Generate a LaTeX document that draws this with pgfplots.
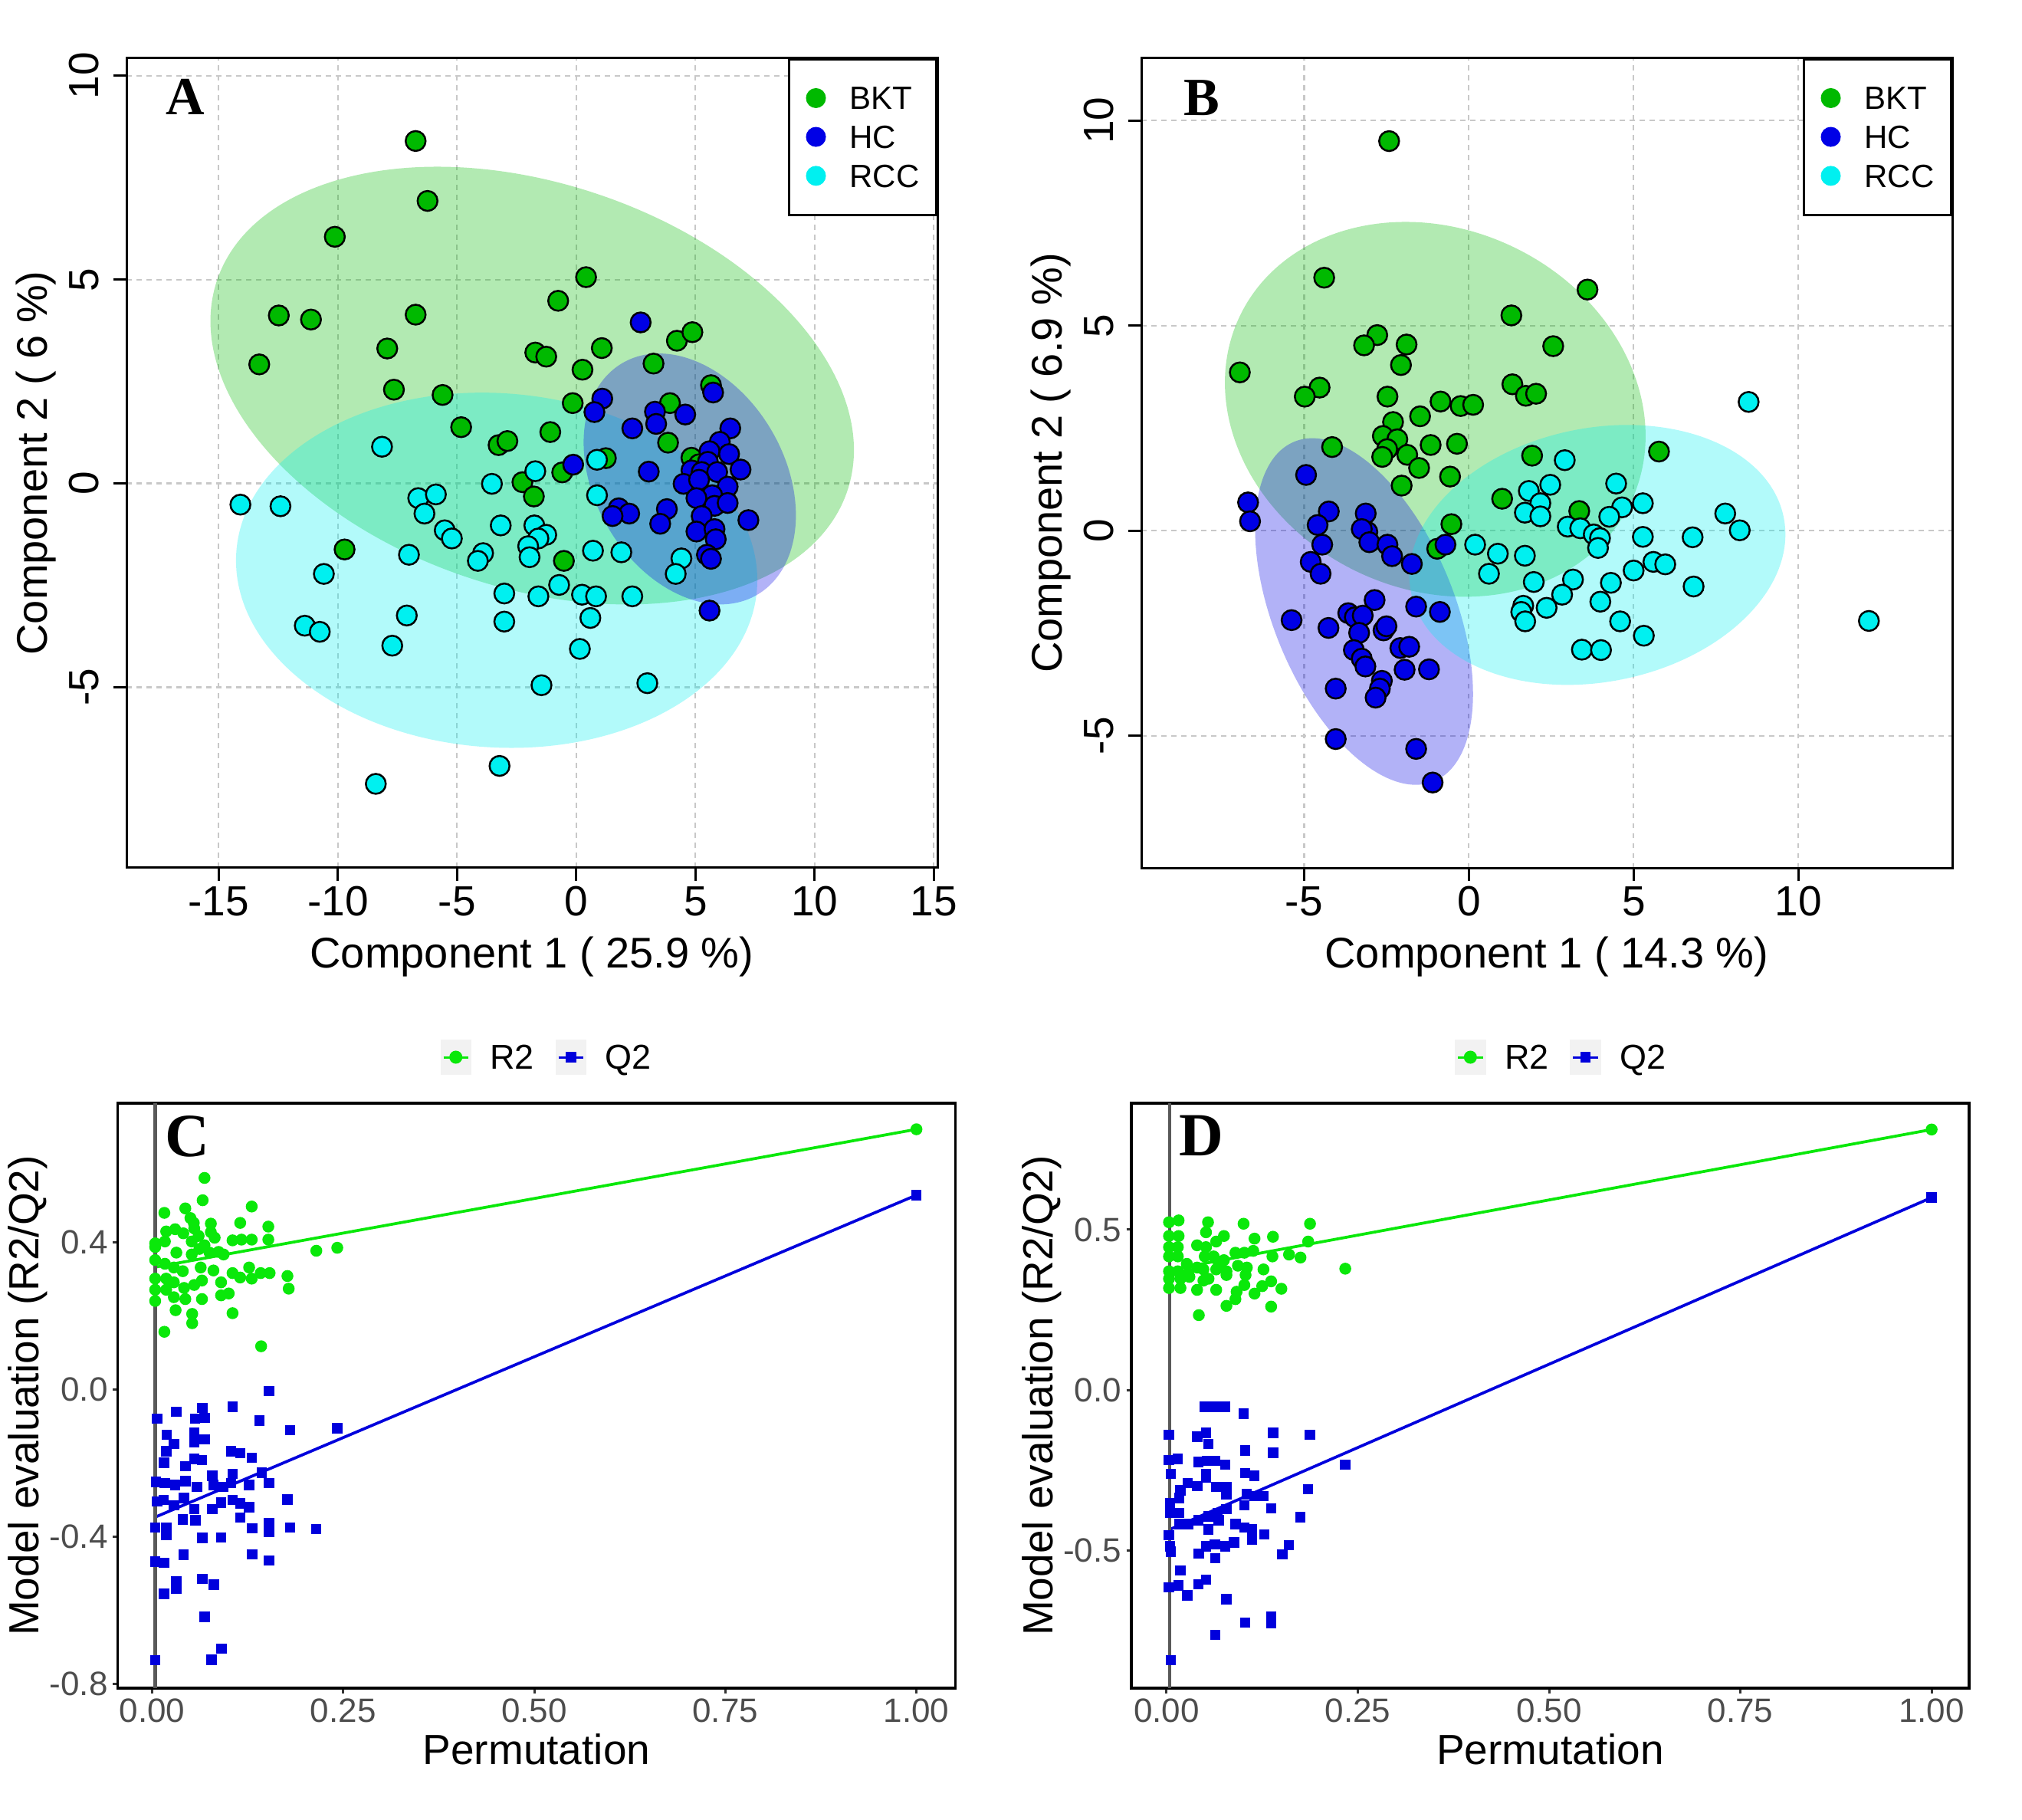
\documentclass[border=0pt]{standalone}
\usepackage{fontspec}
\setmainfont{Liberation Sans}
\newfontfamily\panelfont{Liberation Serif}
\usepackage{pgfplots}
\pgfplotsset{compat=1.18}
\definecolor{bkt}{RGB}{0,185,0}
\definecolor{hc}{RGB}{0,0,230}
\definecolor{rcc}{RGB}{0,240,240}
\definecolor{rtwo}{RGB}{10,232,10}
\definecolor{qtwo}{RGB}{0,0,220}
\definecolor{gridc}{RGB}{200,200,200}
\definecolor{keybg}{RGB}{242,242,242}
\definecolor{tickc}{RGB}{77,77,77}
\pgfplotsset{
  pca/.style={
    scale only axis, width=211.6pt, height=211.2pt,
    axis line style={line width=0.6pt},
    tick align=outside, xtick pos=left, ytick pos=left,
    major tick length=3.4pt, tick style={line width=0.6pt, black},
    grid=major, major grid style={gridc, line width=0.45pt, dash pattern=on 1.3pt off 1.3pt},
    xticklabel style={font=\fontsize{11}{13}\selectfont, inner sep=1.3pt},
    yticklabel style={font=\fontsize{11}{13}\selectfont, rotate=90, anchor=south, inner sep=0pt},
    yticklabel shift=3.5pt,
    label style={font=\fontsize{11.2}{13}\selectfont},
    xlabel style={at={(axis description cs:0.5,-0.124)}, anchor=base},
    ylabel style={at={(axis description cs:-0.0978,0.5)}, anchor=base},
    legend style={at={(1,1)}, anchor=north east, draw=black, line width=0.6pt,
      font=\fontsize{8.4}{10}\selectfont, inner xsep=4.4pt, inner ysep=7.2pt,
      row sep=4.3pt, /tikz/every odd column/.append style={column sep=6.2pt},
      nodes={inner sep=0pt, text depth=0pt}},
    legend cell align=left,
  },
  pca marks/.style={only marks, mark=*, mark size=2.6pt, draw=black, line width=0.5pt, forget plot},
  perm/.style={
    scale only axis, width=218.6pt, height=152.6pt,
    axis line style={line width=0.7pt},
    tick align=outside, xtick pos=left, ytick pos=left,
    major tick length=1.3pt, tick style={line width=0.6pt, black!80},
    xmin=-0.045, xmax=1.051,
    xtick={0,0.25,0.5,0.75,1}, xticklabels={0.00,0.25,0.50,0.75,1.00},
    xticklabel style={font=\fontsize{8.8}{10}\selectfont, text=tickc, inner sep=1.2pt},
    yticklabel style={font=\fontsize{8.8}{10}\selectfont, text=tickc, inner sep=1.1pt},
    label style={font=\fontsize{11}{13}\selectfont},
    xlabel={Permutation},
    ylabel={Model evaluation (R2/Q2)},
    xlabel style={at={(axis description cs:0.5,-0.130)}, anchor=base},
    ylabel style={at={(axis description cs:-0.0938,0.5)}, anchor=base},
    legend columns=2,
    legend style={at={(0.511,1.0786)}, anchor=center, draw=none, fill=none,
      font=\fontsize{9}{11}\selectfont,
      nodes={inner sep=0pt, text depth=0pt},
      /tikz/every odd column/.append style={column sep=4.9pt},
      /tikz/every even column/.append style={column sep=5.5pt}},
  },
  rtwo key/.style={legend image code/.code={
      \fill[keybg] (0pt,-4.35pt) rectangle (7.7pt,4.35pt);
      \draw[rtwo, line width=0.6pt] (0.6pt,0pt) -- (7.1pt,0pt);
      \fill[rtwo] (3.85pt,0pt) circle (1.5pt);}},
  qtwo key/.style={legend image code/.code={
      \fill[keybg] (0pt,-4.35pt) rectangle (7.7pt,4.35pt);
      \draw[qtwo, line width=0.6pt] (0.6pt,0pt) -- (7.1pt,0pt);
      \fill[qtwo] (2.7pt,-1.15pt) rectangle (5pt,1.15pt);}},
  dot key/.style={legend image code/.code={\fill[#1] (0pt,0pt) circle (2.3pt);}},
}
\begin{document}
\begin{tikzpicture}
\useasboundingbox (0,0) rectangle (527.6pt,474.6pt);
% ---------------- Panel A ----------------
\begin{axis}[pca, at={(33pt,248.2pt)}, anchor=south west,
  xmin=-18.87, xmax=15.15, ymin=-9.43, ymax=10.43,
  xtick={-15,-10,-5,0,5,10,15}, xticklabels={-15,-10,-5,0,5,10,15},
  ytick={-5,0,5,10}, yticklabels={-5,0,5,10},
  xlabel={Component 1 ( 25.9 \%)}, ylabel={Component 2 ( 6 \%)}]
\fill[bkt, fill opacity=0.3, rotate around={-18.4:(axis cs:-1.85,2.40)}] (axis cs:-1.85,2.40) ellipse [x radius=86.7pt, y radius=52.8pt];
\fill[rcc, fill opacity=0.3, rotate around={-4:(axis cs:-3.34,-2.13)}] (axis cs:-3.34,-2.13) ellipse [x radius=68.1pt, y radius=46.2pt];
\fill[hc, fill opacity=0.3, rotate around={-60:(axis cs:4.76,0.11)}] (axis cs:4.76,0.11) ellipse [x radius=34.96pt, y radius=24.8pt];
\addlegendimage{dot key=bkt}
\addlegendentry{BKT}
\addlegendimage{dot key=hc}
\addlegendentry{HC}
\addlegendimage{dot key=rcc}
\addlegendentry{RCC}
\addplot[pca marks, fill=bkt] table {
x y
-6.74 8.40
-6.24 6.93
-10.13 6.05
0.41 5.06
-0.76 4.48
-12.48 4.12
-11.13 4.02
-6.74 4.14
-13.30 2.92
-7.93 3.31
-1.72 3.21
-1.26 3.11
1.07 3.32
4.22 3.50
4.87 3.71
3.24 2.94
0.26 2.79
-7.65 2.30
-5.61 2.17
5.65 2.41
-0.15 1.97
3.93 1.97
-4.83 1.38
-3.26 0.94
-2.89 1.04
-1.09 1.26
3.85 1.00
1.24 0.62
4.83 0.63
5.15 0.47
-0.59 0.27
-2.26 0.03
-1.78 -0.32
-9.72 -1.62
-0.52 -1.90
};
\addplot[pca marks, fill=rcc] table {
x y
-8.15 0.90
-14.09 -0.52
-12.41 -0.56
-6.63 -0.36
-5.89 -0.27
-6.37 -0.74
-3.54 -0.01
-1.72 0.30
0.87 0.58
0.87 -0.29
-5.52 -1.15
-5.22 -1.35
-3.17 -1.03
-1.76 -1.03
-1.26 -1.26
-1.59 -1.35
-2.02 -1.54
-3.91 -1.71
-4.13 -1.90
-1.96 -1.81
-7.02 -1.75
-10.59 -2.22
0.70 -1.65
1.89 -1.69
4.41 -1.84
4.17 -2.22
-3.02 -2.70
-1.59 -2.77
-0.72 -2.49
0.24 -2.73
0.83 -2.77
2.35 -2.77
-7.11 -3.24
-11.39 -3.49
-10.76 -3.64
-3.02 -3.39
0.59 -3.30
-7.72 -3.98
0.15 -4.06
-1.46 -4.95
2.98 -4.90
-3.22 -6.93
-8.41 -7.37
};
\addplot[pca marks, fill=hc] table {
x y
2.70 3.95
5.74 2.23
1.09 2.08
0.76 1.75
3.30 1.76
4.57 1.69
3.35 1.46
2.35 1.35
6.46 1.35
6.02 1.02
5.59 0.79
6.41 0.72
5.52 0.53
4.83 0.32
5.26 0.28
5.91 0.28
6.89 0.34
3.04 0.29
-0.13 0.46
4.50 -0.01
5.15 0.09
6.35 -0.08
5.70 -0.29
5.04 -0.36
5.80 -0.55
6.35 -0.48
1.78 -0.61
2.22 -0.74
1.52 -0.80
3.80 -0.63
3.52 -0.99
5.26 -0.80
7.22 -0.90
5.04 -1.18
5.80 -1.12
5.85 -1.37
5.48 -1.75
5.65 -1.85
5.59 -3.12
};
\node[font=\panelfont\bfseries\fontsize{14}{16}\selectfont] at (rel axis cs:0.0727,0.952) {A};
\end{axis}
% ---------------- Panel B ----------------
\begin{axis}[pca, at={(297.8pt,248.2pt)}, anchor=south west,
  xmin=-9.94, xmax=14.67, ymin=-8.22, ymax=11.52,
  xtick={-5,0,5,10}, xticklabels={-5,0,5,10},
  ytick={-5,0,5,10}, yticklabels={-5,0,5,10},
  xlabel={Component 1 ( 14.3 \%)}, ylabel={Component 2 ( 6.9 \%)}]
\fill[bkt, fill opacity=0.3, rotate around={-25.4:(axis cs:-1.02,2.96)}] (axis cs:-1.02,2.96) ellipse [x radius=56.5pt, y radius=47.0pt];
\fill[hc, fill opacity=0.3, rotate around={-67.65:(axis cs:-3.18,-1.97)}] (axis cs:-3.18,-1.97) ellipse [x radius=47.9pt, y radius=23.6pt];
\fill[rcc, fill opacity=0.3, rotate around={11.4:(axis cs:3.90,-0.59)}] (axis cs:3.90,-0.59) ellipse [x radius=49.6pt, y radius=33.1pt];
\addlegendimage{dot key=bkt}
\addlegendentry{BKT}
\addlegendimage{dot key=hc}
\addlegendentry{HC}
\addlegendimage{dot key=rcc}
\addlegendentry{RCC}
\addplot[pca marks, fill=bkt] table {
x y
-2.42 9.50
-4.39 6.17
3.60 5.88
1.29 5.25
2.56 4.50
-2.78 4.77
-3.18 4.52
-1.89 4.54
-2.06 4.04
-6.95 3.86
-4.53 3.49
-4.98 3.27
1.32 3.57
1.73 3.29
2.04 3.34
-2.47 3.27
-0.86 3.15
-0.25 3.04
0.13 3.07
-1.48 2.79
-2.30 2.65
-2.61 2.31
-2.17 2.23
-1.16 2.09
-0.36 2.12
-4.15 2.04
-2.48 1.99
-2.63 1.80
-1.87 1.85
-1.51 1.53
-0.57 1.32
-2.04 1.10
1.92 1.83
5.77 1.93
1.01 0.78
3.35 0.48
-0.53 0.16
-0.96 -0.44
};
\addplot[pca marks, fill=rcc] table {
x y
8.49 3.14
2.91 1.72
4.47 1.15
2.47 1.12
1.82 0.97
2.17 0.67
5.28 0.67
4.65 0.57
7.78 0.42
8.22 0.01
1.70 0.44
2.17 0.35
4.26 0.34
3.00 0.10
3.38 0.06
3.79 -0.09
3.98 -0.18
3.92 -0.42
5.28 -0.15
6.79 -0.16
0.19 -0.34
0.88 -0.56
1.70 -0.61
0.61 -1.05
5.60 -0.76
5.96 -0.82
5.00 -0.97
1.97 -1.25
3.16 -1.19
4.31 -1.27
6.82 -1.36
2.83 -1.56
3.99 -1.73
2.36 -1.88
1.65 -1.83
1.59 -1.98
1.71 -2.21
4.59 -2.21
5.31 -2.56
3.43 -2.90
4.01 -2.91
12.14 -2.20
};
\addplot[pca marks, fill=hc] table {
x y
-4.94 1.36
-6.70 0.69
-6.64 0.23
-4.25 0.47
-4.59 0.14
-3.13 0.42
-3.08 -0.03
-3.25 0.04
-3.02 -0.28
-4.45 -0.34
-2.47 -0.34
-2.33 -0.62
-1.73 -0.81
-4.80 -0.76
-4.50 -1.05
-0.71 -0.34
-2.86 -1.69
-3.66 -2.01
-3.46 -2.11
-3.22 -2.07
-1.60 -1.85
-0.88 -1.98
-5.38 -2.18
-4.26 -2.37
-3.33 -2.49
-2.59 -2.43
-2.50 -2.33
-2.08 -2.86
-1.81 -2.83
-3.49 -2.91
-3.25 -3.12
-3.14 -3.31
-1.95 -3.39
-1.21 -3.38
-2.64 -3.66
-2.70 -3.85
-2.83 -4.07
-4.04 -3.85
-4.04 -5.08
-1.60 -5.32
-1.10 -6.14
};
\node[font=\panelfont\bfseries\fontsize{14}{16}\selectfont] at (rel axis cs:0.0745,0.951) {B};
\end{axis}
% ---------------- Panel C ----------------
\begin{axis}[perm, at={(30.7pt,34.2pt)}, anchor=south west,
  ymin=-0.812, ymax=0.779,
  ytick={-0.8,-0.4,0,0.4}, yticklabels={-0.8,-0.4,0.0,0.4}]
\addlegendimage{rtwo key}
\addlegendentry{R2}
\addlegendimage{qtwo key}
\addlegendentry{Q2}
\addplot[rtwo, line width=0.75pt, forget plot] coordinates {(0.004,0.333) (1,0.708)};
\addplot[qtwo, line width=0.75pt, forget plot] coordinates {(0.004,-0.347) (1,0.529)};
\addplot[only marks, mark=*, mark size=1.35pt, rtwo, forget plot] table {
x y
1.0 0.708
0.0686 0.5757
0.0662 0.5150
0.1304 0.4979
0.0161 0.4807
0.0435 0.4928
0.0502 0.4665
0.0546 0.4534
0.0769 0.4514
0.1153 0.4534
0.1521 0.4433
0.0185 0.4301
0.0302 0.4362
0.0409 0.4251
0.0552 0.4382
0.0609 0.4180
0.0769 0.4281
0.0819 0.4130
0.1053 0.4059
0.1170 0.4079
0.1304 0.4079
0.1521 0.4079
0.0041 0.3978
0.0041 0.3877
0.0168 0.4028
0.0519 0.4028
0.0686 0.3927
0.0619 0.3826
0.0753 0.3725
0.0870 0.3745
0.0936 0.3675
0.0318 0.3725
0.0519 0.3675
0.2149 0.3776
0.2423 0.3857
0.0041 0.3523
0.0168 0.3422
0.0285 0.3321
0.0402 0.3220
0.0636 0.3321
0.0803 0.3240
0.1270 0.3321
0.1421 0.3169
0.1538 0.3169
0.1771 0.3089
0.0041 0.3018
0.0185 0.3018
0.0285 0.2917
0.0419 0.2765
0.0552 0.2846
0.0653 0.2967
0.0903 0.2917
0.1053 0.3169
0.1153 0.3048
0.1304 0.3018
0.1788 0.2745
0.0041 0.2715
0.0185 0.2715
0.0285 0.2513
0.0435 0.2462
0.0653 0.2462
0.0903 0.2563
0.1003 0.2614
0.0041 0.2411
0.0308 0.2159
0.0525 0.2058
0.0525 0.1805
0.1053 0.2078
0.0161 0.1572
0.1427 0.1178
};
\addplot[only marks, mark=square*, mark size=1.15pt, qtwo, forget plot] table {
x y
1.0 0.529
0.1528 -0.0035
0.0318 -0.0601
0.0659 -0.0500
0.1053 -0.0469
0.0068 -0.0793
0.0562 -0.0793
0.0686 -0.0772
0.1404 -0.0843
0.1805 -0.1106
0.2423 -0.1055
0.0191 -0.1227
0.0552 -0.1177
0.0686 -0.1358
0.0285 -0.1480
0.0185 -0.1682
0.0552 -0.1429
0.1036 -0.1682
0.1153 -0.1733
0.1304 -0.1854
0.0158 -0.1985
0.0435 -0.2086
0.0552 -0.1884
0.0653 -0.1915
0.0051 -0.2511
0.0168 -0.2541
0.0302 -0.2592
0.0435 -0.2491
0.0586 -0.2642
0.0786 -0.2339
0.0803 -0.2592
0.1053 -0.2288
0.1036 -0.2541
0.0936 -0.2642
0.1270 -0.2592
0.1437 -0.2258
0.1528 -0.2541
0.0068 -0.3047
0.0151 -0.2996
0.0285 -0.3148
0.0419 -0.2945
0.0552 -0.3249
0.0786 -0.3249
0.0903 -0.3077
0.1053 -0.2996
0.1153 -0.3097
0.1270 -0.3198
0.1771 -0.2986
0.0041 -0.3754
0.0185 -0.3754
0.0185 -0.3956
0.0402 -0.3532
0.0569 -0.3552
0.1153 -0.3481
0.1310 -0.3774
0.1528 -0.3633
0.1528 -0.3875
0.1805 -0.3754
0.2149 -0.3794
0.0659 -0.4037
0.0903 -0.4027
0.0412 -0.4492
0.1310 -0.4482
0.1528 -0.4643
0.0041 -0.4684
0.0158 -0.4714
0.0318 -0.5219
0.0318 -0.5421
0.0659 -0.5148
0.0809 -0.5310
0.0158 -0.5553
0.0686 -0.6180
0.0910 -0.7049
0.0780 -0.7352
0.0041 -0.7362
};
\addplot[black!65, line width=0.9pt, forget plot] coordinates {(0.004,-0.812) (0.004,0.779)};
\node[font=\panelfont\bfseries\fontsize{16}{18}\selectfont] at (rel axis cs:0.083,0.943) {C};
\end{axis}
% ---------------- Panel D ----------------
\begin{axis}[perm, at={(295.2pt,34.2pt)}, anchor=south west,
  xmin=-0.046, xmax=1.049, ymin=-0.928, ymax=0.894,
  ytick={-0.5,0,0.5}, yticklabels={-0.5,0.0,0.5},
  legend style={at={(0.512,1.0786)}}]
\addlegendimage{rtwo key}
\addlegendentry{R2}
\addlegendimage{qtwo key}
\addlegendentry{Q2}
\addplot[rtwo, line width=0.75pt, forget plot] coordinates {(0.004,0.375) (1,0.812)};
\addplot[qtwo, line width=0.75pt, forget plot] coordinates {(0.004,-0.434) (1,0.600)};
\addplot[only marks, mark=*, mark size=1.35pt, rtwo, forget plot] table {
x y
1.0 0.812
0.0032 0.5232
0.0158 0.5289
0.0542 0.5232
0.1007 0.5185
0.1875 0.5185
0.0032 0.4803
0.0158 0.4803
0.0516 0.4919
0.0649 0.4630
0.0750 0.4803
0.1150 0.4722
0.1391 0.4780
0.0032 0.4456
0.0148 0.4456
0.0399 0.4514
0.0516 0.4456
0.1851 0.4630
0.0032 0.4167
0.0148 0.4167
0.0265 0.3935
0.0399 0.3820
0.0499 0.4167
0.0616 0.4167
0.0683 0.3935
0.0750 0.4051
0.0900 0.4282
0.1017 0.4282
0.1133 0.4340
0.1384 0.4167
0.1601 0.4225
0.1751 0.4132
0.0032 0.3704
0.0148 0.3704
0.0282 0.3646
0.0482 0.3762
0.0649 0.3762
0.0783 0.3704
0.0933 0.3877
0.1050 0.3820
0.1267 0.3762
0.2336 0.3785
0.0032 0.3472
0.0182 0.3472
0.0299 0.3530
0.0549 0.3472
0.0783 0.3588
0.1033 0.3588
0.0032 0.3183
0.0182 0.3183
0.0399 0.3125
0.0649 0.3125
0.1017 0.3276
0.1250 0.3241
0.1367 0.3391
0.1501 0.3160
0.0482 0.3414
0.1150 0.3009
0.0916 0.3067
0.0900 0.2836
0.0783 0.2627
0.1367 0.2604
0.0422 0.2338
};
\addplot[only marks, mark=square*, mark size=1.15pt, qtwo, forget plot] table {
x y
1.0 0.600
0.0499 -0.0521
0.0633 -0.0521
0.0760 -0.0521
0.1007 -0.0729
0.0032 -0.1389
0.0399 -0.1447
0.0516 -0.1331
0.1391 -0.1331
0.1875 -0.1389
0.0549 -0.1678
0.1027 -0.1875
0.1391 -0.1944
0.0032 -0.2176
0.0148 -0.2141
0.0416 -0.2234
0.0532 -0.2199
0.0633 -0.2199
0.0766 -0.2315
0.2336 -0.2315
0.0058 -0.2604
0.0516 -0.2604
0.0516 -0.2720
0.1027 -0.2581
0.1150 -0.2662
0.0275 -0.2894
0.0399 -0.2986
0.0649 -0.3009
0.0783 -0.3009
0.0182 -0.3125
0.0165 -0.3356
0.0048 -0.3530
0.0783 -0.3241
0.1050 -0.3241
0.1150 -0.3298
0.1267 -0.3298
0.1851 -0.3079
0.0048 -0.3819
0.0165 -0.3819
0.0282 -0.4167
0.0416 -0.4051
0.0549 -0.3935
0.0666 -0.3819
0.0683 -0.4051
0.0783 -0.3704
0.1017 -0.3588
0.1367 -0.3681
0.1751 -0.3958
0.0032 -0.4514
0.0165 -0.4167
0.0549 -0.4340
0.0900 -0.4167
0.1017 -0.4282
0.1117 -0.4340
0.0048 -0.4861
0.0055 -0.5035
0.0516 -0.4861
0.0633 -0.4803
0.0766 -0.4861
0.0883 -0.4745
0.1117 -0.4653
0.1277 -0.4490
0.1601 -0.4826
0.1511 -0.5116
0.0422 -0.5093
0.0639 -0.5232
0.0182 -0.5613
0.0032 -0.6134
0.0155 -0.6076
0.0516 -0.5903
0.0416 -0.6042
0.0272 -0.6389
0.0783 -0.6505
0.1027 -0.7234
0.1367 -0.7060
0.1367 -0.7268
0.0639 -0.7616
0.0058 -0.8414
};
\addplot[black!65, line width=0.9pt, forget plot] coordinates {(0.004,-0.928) (0.004,0.894)};
\node[font=\panelfont\bfseries\fontsize{16}{18}\selectfont] at (rel axis cs:0.084,0.945) {D};
\end{axis}
\end{tikzpicture}
\end{document}
